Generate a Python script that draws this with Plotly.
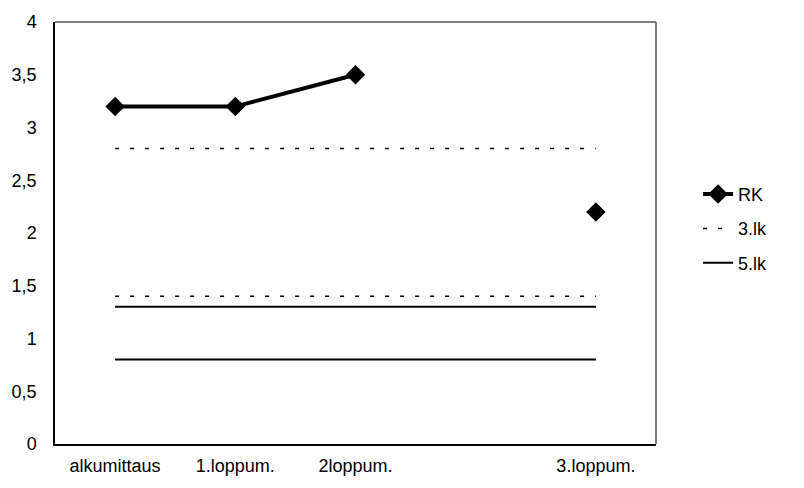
import plotly.graph_objects as go

# Measurement points (the fourth slot is left empty on the axis)
categories = ["alkumittaus", "1.loppum.", "2loppum.", "", "3.loppum."]
rk_values = [3.2, 3.2, 3.5, None, 2.2]

# Reference limits drawn across all measurement points
lk3_upper = [2.8, 2.8, 2.8, 2.8, 2.8]
lk3_lower = [1.4, 1.4, 1.4, 1.4, 1.4]
lk5_upper = [1.3, 1.3, 1.3, 1.3, 1.3]
lk5_lower = [0.8, 0.8, 0.8, 0.8, 0.8]

y_ticks = [0, 0.5, 1, 1.5, 2, 2.5, 3, 3.5, 4]

xs = list(range(len(categories)))

fig = go.Figure()

fig.add_trace(go.Scatter(
    x=xs, y=rk_values, name="RK", mode="lines+markers", legendgroup="rk",
    line=dict(color="black", width=4),
    marker=dict(symbol="diamond", size=15, color="black"),
    connectgaps=False,
))

fig.add_trace(go.Scatter(
    x=xs + [None] + xs, y=lk3_upper + [None] + lk3_lower, name="3.lk",
    legendgroup="lk3",
    mode="lines", line=dict(color="black", width=1.5, dash="4px,11px"),
))

fig.add_trace(go.Scatter(
    x=xs + [None] + xs, y=lk5_upper + [None] + lk5_lower, name="5.lk",
    legendgroup="lk5",
    mode="lines", line=dict(color="black", width=2),
))

fig.update_layout(
    width=804, height=488,
    margin=dict(l=55, r=148, t=20, b=40),
    paper_bgcolor="white", plot_bgcolor="white",
    separators=", ",
    font=dict(family="Liberation Sans, Arial, sans-serif", size=18, color="black"),
    showlegend=True,
    legend=dict(x=1.07, y=0.51, xanchor="left", yanchor="middle",
                font=dict(size=18), tracegroupgap=8, itemwidth=30,
                bgcolor="rgba(0,0,0,0)"),
)

fig.update_xaxes(
    range=[-0.5, 4.5], tickmode="array", tickvals=xs, ticktext=categories,
    showgrid=False, zeroline=False, showline=True, linecolor="black",
    linewidth=1.5, mirror=False, ticks="", ticklabelstandoff=5,
)
fig.update_yaxes(
    range=[0, 4], tickmode="array", tickvals=y_ticks,
    showgrid=False, zeroline=False, showline=True, linecolor="black",
    linewidth=1.5, ticks="", ticklabelstandoff=13,
)

# Plot-area frame on the top and right sides
fig.add_shape(type="line", xref="paper", yref="paper", x0=0, x1=1, y0=1, y1=1,
              line=dict(color="#555555", width=1.5))
fig.add_shape(type="line", xref="paper", yref="paper", x0=1, x1=1, y0=0, y1=1,
              line=dict(color="#555555", width=1.5))

fig.write_html("out.html")
